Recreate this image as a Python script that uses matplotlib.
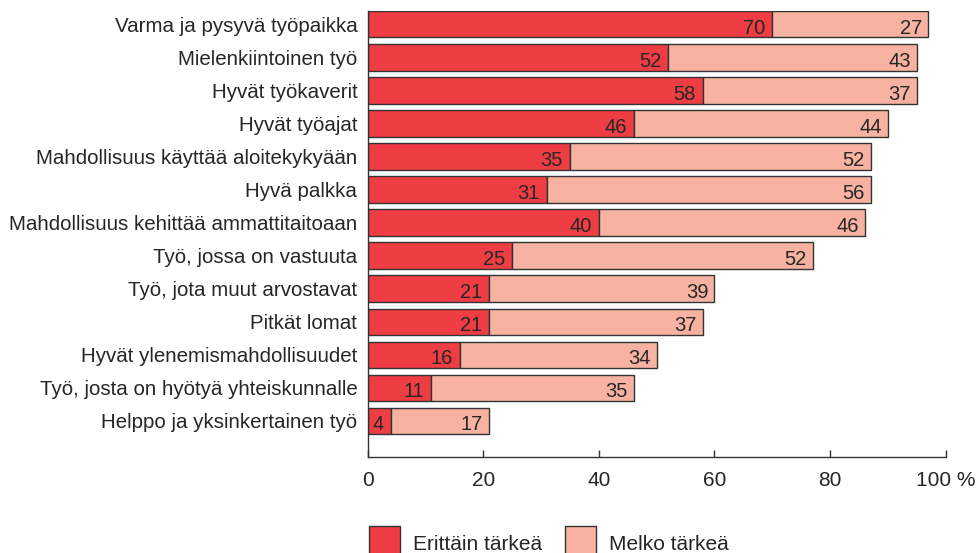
import matplotlib
matplotlib.use("Agg")
import matplotlib.pyplot as plt
import numpy as np

categories = [
    "Varma ja pysyvä työpaikka",
    "Mielenkiintoinen työ",
    "Hyvät työkaverit",
    "Hyvät työajat",
    "Mahdollisuus käyttää aloitekykyään",
    "Hyvä palkka",
    "Mahdollisuus kehittää ammattitaitoaan",
    "Työ, jossa on vastuuta",
    "Työ, jota muut arvostavat",
    "Pitkät lomat",
    "Hyvät ylenemismahdollisuudet",
    "Työ, josta on hyötyä yhteiskunnalle",
    "Helppo ja yksinkertainen työ",
]
erittain = [70, 52, 58, 46, 35, 31, 40, 25, 21, 21, 16, 11, 4]
melko = [27, 43, 37, 44, 52, 56, 46, 52, 39, 37, 34, 35, 17]
series_names = ["Erittäin tärkeä", "Melko tärkeä"]
xticks = [0, 20, 40, 60, 80, 100]
xticklabels = ["0", "20", "40", "60", "80", "100 %"]

plt.rcParams['font.family'] = ['Liberation Sans', 'DejaVu Sans']
TXT = '#262626'
C1 = '#EE3E44'
C2 = '#F8B2A2'
EDGE = '#333333'

fig = plt.figure(figsize=(9.79, 5.53), dpi=100)
ax = fig.add_axes([367.7/979, 1-457/553, (945.7-367.7)/979, (457-11)/553])

y = np.arange(len(categories))
b1 = ax.barh(y, erittain, height=0.8, color=C1, edgecolor=EDGE, linewidth=1.0,
             label=series_names[0])
b2 = ax.barh(y, melko, left=erittain, height=0.8, color=C2, edgecolor=EDGE,
             linewidth=1.0, label=series_names[1])

for i in range(len(categories)):
    e = erittain[i]
    m = melko[i]
    ax.annotate(str(e), (e, y[i]), xytext=(-5.0, -6.8), textcoords='offset points',
                ha='right', va='baseline', fontsize=14.5, color=TXT)
    ax.annotate(str(m), (e + m, y[i]), xytext=(-4.5, -6.8), textcoords='offset points',
                ha='right', va='baseline', fontsize=14.5, color=TXT)

ax.set_xlim(0, 100)
ax.set_ylim(13.09, -0.40)
ax.set_yticks(y)
ax.set_yticklabels(categories, fontsize=14.8, color=TXT)
ax.tick_params(axis='y', length=0, pad=7.5)
ax.set_xticks(xticks)
ax.set_xticklabels(xticklabels, fontsize=15, color=TXT)
ax.tick_params(axis='x', direction='in', length=5, width=1, color=EDGE, pad=10)

for s in ['top', 'right']:
    ax.spines[s].set_visible(False)
for s in ['left', 'bottom']:
    ax.spines[s].set_color(EDGE)
    ax.spines[s].set_linewidth(1.0)

fig.legend(handles=[b1, b2], labels=series_names, loc='upper left',
           bbox_to_anchor=(369/979, 1-526/553), ncol=2, frameon=False,
           fontsize=15, handlelength=1.5, handleheight=2.2,
           handletextpad=0.6, columnspacing=1.1, borderpad=0,
           borderaxespad=0, labelcolor=TXT)

fig.savefig("out.png", dpi=100)
